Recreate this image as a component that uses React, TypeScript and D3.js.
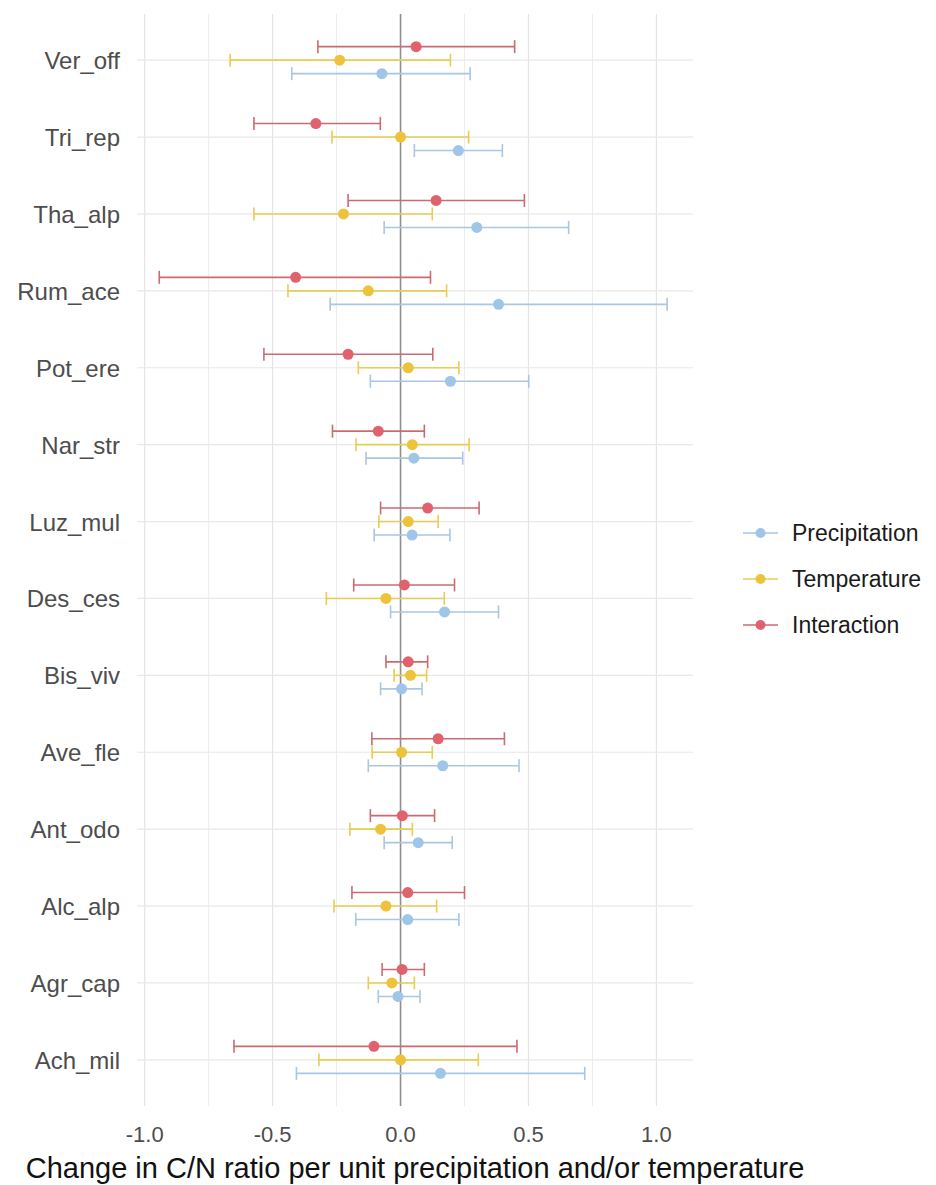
import { useEffect, useRef } from "react";
import * as d3 from "d3";

const species = [
  "Ver_off", "Tri_rep", "Tha_alp", "Rum_ace", "Pot_ere", "Nar_str", "Luz_mul",
  "Des_ces", "Bis_viv", "Ave_fle", "Ant_odo", "Alc_alp", "Agr_cap", "Ach_mil",
];

// effect estimates with lower / upper bounds, one value per species
const precipEst = [-0.073, 0.226, 0.298, 0.383, 0.195, 0.052, 0.045, 0.172, 0.004, 0.165, 0.069, 0.028, -0.010, 0.156];
const precipLo = [-0.425, 0.054, -0.064, -0.275, -0.118, -0.135, -0.103, -0.039, -0.078, -0.126, -0.064, -0.175, -0.087, -0.407];
const precipHi = [0.272, 0.398, 0.657, 1.042, 0.501, 0.243, 0.193, 0.383, 0.084, 0.463, 0.202, 0.228, 0.076, 0.720];

const tempEst = [-0.238, 0.0, -0.223, -0.126, 0.030, 0.046, 0.030, -0.057, 0.039, 0.004, -0.078, -0.057, -0.034, 0.0];
const tempLo = [-0.666, -0.268, -0.573, -0.440, -0.165, -0.174, -0.085, -0.290, -0.025, -0.111, -0.198, -0.260, -0.126, -0.319];
const tempHi = [0.195, 0.266, 0.124, 0.180, 0.228, 0.268, 0.147, 0.171, 0.102, 0.124, 0.046, 0.141, 0.054, 0.304];

const interEst = [0.061, -0.331, 0.139, -0.410, -0.205, -0.087, 0.106, 0.015, 0.030, 0.147, 0.007, 0.028, 0.006, -0.104];
const interLo = [-0.323, -0.573, -0.205, -0.943, -0.534, -0.266, -0.078, -0.183, -0.057, -0.112, -0.118, -0.190, -0.072, -0.651];
const interHi = [0.446, -0.079, 0.484, 0.117, 0.126, 0.093, 0.307, 0.211, 0.106, 0.406, 0.133, 0.250, 0.093, 0.455];

const seriesNames = ["Precipitation", "Temperature", "Interaction"];
const xTicks = [-1, -0.5, 0, 0.5, 1];
const xMinor = [-0.75, -0.25, 0.25, 0.75];

function App() {
  const ref = useRef<HTMLDivElement>(null);

  useEffect(() => {
    const container = d3.select(ref.current);
    container.selectAll("*").remove();

    const width = 936;
    const height = 1185;
    const panel = { left: 137, right: 693, top: 14, bottom: 1106 };
    const font = "'Liberation Sans', Arial, sans-serif";

    const series = [
      { name: "Precipitation", est: precipEst, lo: precipLo, hi: precipHi, line: "#a9c6e3", point: "#9fc5e8", dodge: 13.5 },
      { name: "Temperature", est: tempEst, lo: tempLo, hi: tempHi, line: "#e9cc52", point: "#ecc33a", dodge: 0 },
      { name: "Interaction", est: interEst, lo: interLo, hi: interHi, line: "#cc6a72", point: "#e0626c", dodge: -13.5 },
    ];

    const svg = container
      .append("svg")
      .attr("width", width)
      .attr("height", height)
      .style("position", "absolute")
      .style("left", "0px")
      .style("top", "0px")
      .style("background", "#fff");

    const x = d3.scaleLinear().domain([-1.03, 1.143]).range([panel.left, panel.right]);
    const y = d3.scalePoint().domain(species).range([panel.top, panel.bottom]).padding(0.6);

    // grid
    svg
      .append("g")
      .selectAll("line")
      .data(xMinor)
      .enter()
      .append("line")
      .attr("x1", (d) => x(d))
      .attr("x2", (d) => x(d))
      .attr("y1", panel.top)
      .attr("y2", panel.bottom)
      .attr("stroke", "#ececec")
      .attr("stroke-width", 1);

    svg
      .append("g")
      .selectAll("line")
      .data(xTicks.filter((d) => d !== 0))
      .enter()
      .append("line")
      .attr("x1", (d) => x(d))
      .attr("x2", (d) => x(d))
      .attr("y1", panel.top)
      .attr("y2", panel.bottom)
      .attr("stroke", "#e4e4e4")
      .attr("stroke-width", 1.2);

    svg
      .append("g")
      .selectAll("line")
      .data(species)
      .enter()
      .append("line")
      .attr("x1", panel.left)
      .attr("x2", panel.right)
      .attr("y1", (d) => y(d))
      .attr("y2", (d) => y(d))
      .attr("stroke", "#e8e8e8")
      .attr("stroke-width", 1.2);

    // zero line
    svg
      .append("line")
      .attr("x1", x(0))
      .attr("x2", x(0))
      .attr("y1", panel.top)
      .attr("y2", panel.bottom)
      .attr("stroke", "#8f8f8f")
      .attr("stroke-width", 1.6);

    // error bars + points
    series.forEach((s) => {
      const g = svg.append("g");
      const rows = species.map((sp, i) => ({ sp, est: s.est[i], lo: s.lo[i], hi: s.hi[i] }));
      const cy = (d) => y(d.sp) + s.dodge;

      g.selectAll(".bar")
        .data(rows)
        .enter()
        .append("line")
        .attr("x1", (d) => x(d.lo))
        .attr("x2", (d) => x(d.hi))
        .attr("y1", cy)
        .attr("y2", cy)
        .attr("stroke", s.line)
        .attr("stroke-width", 1.6);

      ["lo", "hi"].forEach((k) => {
        g.selectAll(".cap-" + k)
          .data(rows)
          .enter()
          .append("line")
          .attr("x1", (d) => x(d[k]))
          .attr("x2", (d) => x(d[k]))
          .attr("y1", (d) => cy(d) - 6.5)
          .attr("y2", (d) => cy(d) + 6.5)
          .attr("stroke", s.line)
          .attr("stroke-width", 1.6);
      });

      g.selectAll("circle")
        .data(rows)
        .enter()
        .append("circle")
        .attr("cx", (d) => x(d.est))
        .attr("cy", cy)
        .attr("r", 5.5)
        .attr("fill", s.point);
    });

    // y labels
    svg
      .append("g")
      .selectAll("text")
      .data(species)
      .enter()
      .append("text")
      .attr("x", 120)
      .attr("y", (d) => y(d) + 9)
      .attr("text-anchor", "end")
      .attr("fill", "#4d4d4d")
      .style("font-family", font)
      .style("font-size", "24px")
      .text((d) => d);

    // x tick labels
    svg
      .append("g")
      .selectAll("text")
      .data(xTicks)
      .enter()
      .append("text")
      .attr("x", (d) => x(d))
      .attr("y", 1142)
      .attr("text-anchor", "middle")
      .attr("fill", "#4d4d4d")
      .style("font-family", font)
      .style("font-size", "22px")
      .text((d) => d.toFixed(1));

    svg
      .append("text")
      .attr("x", (panel.left + panel.right) / 2)
      .attr("y", 1178)
      .attr("text-anchor", "middle")
      .attr("fill", "#111")
      .style("font-family", font)
      .style("font-size", "29px")
      .text("Change in C/N ratio per unit precipitation and/or temperature");

    // legend
    const legend = svg.append("g");
    const ly = d3.scalePoint().domain(seriesNames).range([533, 625]);
    series.forEach((s) => {
      const yy = ly(s.name);
      legend
        .append("line")
        .attr("x1", 743)
        .attr("x2", 778)
        .attr("y1", yy)
        .attr("y2", yy)
        .attr("stroke", s.line)
        .attr("stroke-width", 1.6);
      legend
        .append("circle")
        .attr("cx", 760.5)
        .attr("cy", yy)
        .attr("r", 5)
        .attr("fill", s.point);
      legend
        .append("text")
        .attr("x", 792)
        .attr("y", yy + 8)
        .attr("fill", "#1a1a1a")
        .style("font-family", font)
        .style("font-size", "23px")
        .text(s.name);
    });
  }, []);

  return <div ref={ref} />;
}

export default App;
